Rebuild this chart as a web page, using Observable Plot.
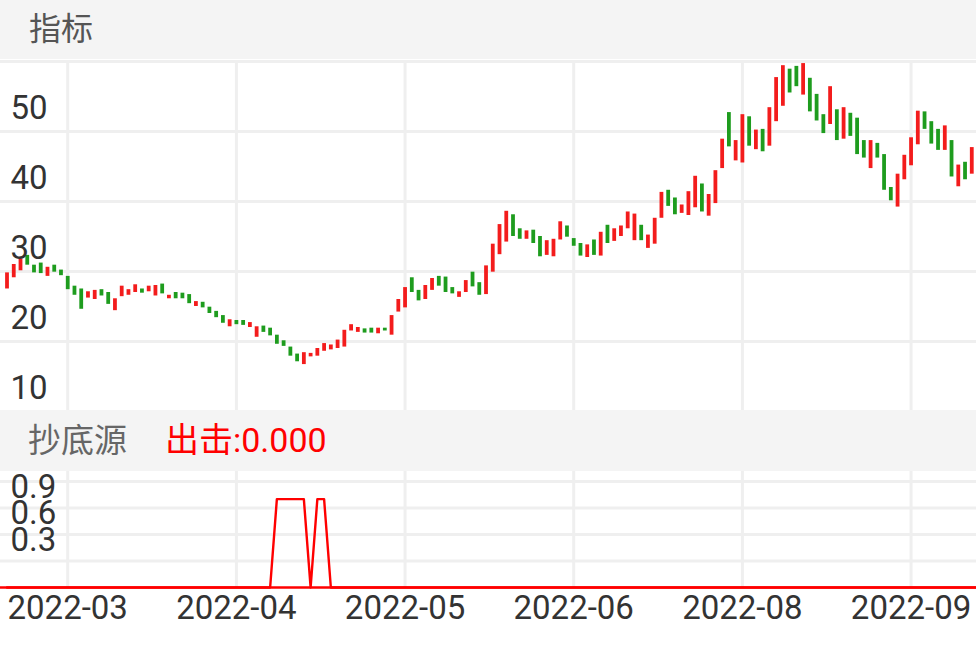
<!DOCTYPE html>
<html>
<head>
<meta charset="utf-8">
<script src="https://cdn.jsdelivr.net/npm/d3@7"></script>
<script src="https://cdn.jsdelivr.net/npm/@observablehq/plot@0.6"></script>
<style>
  html, body { margin: 0; padding: 0; background: #fff; }
  #wrap { position: relative; width: 976px; height: 649px; overflow: hidden;
          font-family: Roboto, "Noto Sans CJK SC", sans-serif; background: #fff; }
  .hdr { position: absolute; left: 0; width: 976px; background: #f4f4f4; }
  .hdr span { position: absolute; white-space: nowrap; }
  #main, #lower { position: absolute; left: 0; width: 976px; }
  #main svg, #lower svg { display: block; overflow: visible; }
</style>
</head>
<body>
<div id="wrap">
  <div class="hdr" style="top:0;height:59px;">
    <span style="left:29px;top:0;line-height:59px;font-size:32px;color:#555;">指标</span>
  </div>
  <div id="main" style="top:60px;height:350px;"></div>
  <div class="hdr" style="top:410px;height:61px;">
    <span style="left:28px;top:0;line-height:61px;font-size:33px;color:#666;">抄底源</span>
    <span style="left:165px;top:0;line-height:61px;font-size:34px;color:#ff0000;">出击:0.000</span>
  </div>
  <div id="lower" style="top:471px;height:178px;"></div>
</div>
<script>
// ---- data ----
const opens = [
  27.5, 29.1, 30.1, 32.3, 30.9, 31.2, 29.3, 30.9, 30.2, 29.3,
  27.9, 27.5, 26.2, 26.0, 27.4, 27.0, 24.4, 26.4, 26.6, 27.0,
  27.5, 27.1, 26.5, 28.2, 26.1, 27.0, 26.9, 26.7, 25.0, 25.6,
  24.9, 24.3, 23.7, 22.1, 23.0, 23.0, 22.0, 20.6, 22.2, 21.9,
  20.9, 20.1, 19.2, 18.2, 16.7, 17.8, 17.9, 18.6, 18.8, 19.0,
  19.2, 21.5, 21.3, 21.8, 21.9, 21.1, 21.9, 20.9, 24.2, 24.8,
  29.1, 27.3, 26.0, 27.3, 29.3, 29.2, 27.7, 26.3, 27.0, 29.9,
  28.4, 26.7, 29.9, 32.4, 34.2, 38.1, 36.1, 34.6, 35.9, 35.0,
  32.3, 32.1, 34.5, 36.5, 34.7, 34.0, 32.0, 34.5, 32.2, 36.6,
  34.3, 35.0, 36.1, 34.4, 36.6, 33.3, 33.9, 37.6, 41.6, 40.5,
  38.3, 38.0, 39.1, 42.5, 37.9, 39.7, 44.7, 52.7, 45.8, 45.5,
  52.1, 47.4, 50.3, 47.9, 51.4, 53.6, 58.9, 59.3, 55.2, 57.6,
  55.3, 52.4, 51.0, 53.1, 48.9, 52.6, 51.9, 48.7, 44.7, 48.3,
  46.7, 42.0, 39.2, 43.1, 45.1, 48.1, 52.8, 51.4, 50.3, 47.3,
  48.7, 42.1, 45.6, 43.9, 48.9
];
const closes = [
  29.8, 31.0, 31.8, 30.9, 29.8, 29.7, 30.6, 29.9, 29.4, 27.4,
  26.6, 24.6, 27.1, 27.3, 26.5, 25.3, 26.1, 27.9, 27.4, 28.1,
  26.9, 27.9, 28.0, 26.8, 26.6, 26.1, 26.1, 25.4, 25.7, 24.8,
  24.0, 23.4, 22.6, 23.1, 22.4, 22.3, 22.7, 22.1, 21.3, 20.8,
  19.6, 19.3, 17.9, 17.1, 18.4, 18.3, 19.0, 19.7, 19.5, 20.2,
  21.6, 22.4, 22.0, 21.2, 21.2, 21.9, 21.5, 23.7, 26.0, 27.7,
  27.0, 25.8, 28.0, 29.0, 27.9, 27.0, 26.8, 27.1, 28.7, 27.8,
  26.6, 30.8, 33.9, 36.7, 38.6, 35.0, 34.6, 35.8, 34.0, 32.1,
  34.4, 34.6, 37.1, 34.9, 33.6, 32.2, 33.8, 32.3, 35.6, 34.0,
  36.1, 36.5, 38.5, 38.2, 34.4, 35.2, 37.6, 41.3, 39.3, 38.1,
  39.5, 41.4, 43.6, 38.5, 41.0, 44.4, 48.9, 47.8, 48.7, 52.4,
  47.9, 50.2, 47.1, 53.4, 57.7, 59.4, 55.5, 56.4, 59.7, 52.8,
  51.5, 49.7, 56.4, 48.7, 53.4, 49.3, 46.7, 46.2, 48.7, 46.2,
  41.6, 40.1, 43.9, 46.6, 49.1, 52.9, 50.3, 48.2, 47.3, 50.8,
  43.5, 45.2, 43.1, 47.7, 45.0
];
// 抄底源 signal, one value per candle
const signal = [
  0,0,0,0,0,0,0,0,0,0, 0,0,0,0,0,0,0,0,0,0,
  0,0,0,0,0,0,0,0,0,0, 0,0,0,0,0,0,0,0,0,0,
  1,1,1,1,1,0,1,1,0,0, 0,0,0,0,0,0,0,0,0,0,
  0,0,0,0,0,0,0,0,0,0, 0,0,0,0,0,0,0,0,0,0,
  0,0,0,0,0,0,0,0,0,0, 0,0,0,0,0,0,0,0,0,0,
  0,0,0,0,0,0,0,0,0,0, 0,0,0,0,0,0,0,0,0,0,
  0,0,0,0,0,0,0,0,0,0, 0,0,0,0,0,0,0,0,0,0,
  0,0,0,0,0
];
const tickIndex = [9, 34, 59, 84, 109, 134];
const tickLabels = ["2022-03", "2022-04", "2022-05", "2022-06", "2022-08", "2022-09"];
const mainGrid = [20, 30, 40, 50, 60];
const mainLabels = [10, 20, 30, 40, 50];
const lowerGrid = [0.3, 0.6, 0.9, 1.2];
const lowerLabels = [0.3, 0.6, 0.9];

// ---- build ----
const RED = "#f31c1c", GREEN = "#1e9c1e", GRID = "#efefef";
const candles = opens.map((o, i) => ({i, open: o, close: closes[i], dir: closes[i] >= o ? "up" : "down"}));
const sig = signal.map((v, i) => ({i, v}));
const xDomain = [-0.964, 143.7];
const font = "Roboto, 'Noto Sans CJK SC', sans-serif";

const main = Plot.plot({
  width: 976, height: 350,
  marginTop: 0, marginBottom: 0, marginLeft: 0, marginRight: 0,
  x: {domain: xDomain, axis: null},
  y: {domain: [10.14, 60.14], axis: null},
  color: {domain: ["up", "down"], range: [RED, GREEN]},
  style: {fontFamily: font, background: "#fff", overflow: "visible"},
  marks: [
    Plot.ruleY(mainGrid, {stroke: GRID, strokeWidth: 3}),
    Plot.ruleX(tickIndex, {stroke: GRID, strokeWidth: 3}),
    Plot.ruleX(candles, {x: "i", y1: "open", y2: "close", stroke: "dir", strokeWidth: 3.8}),
    Plot.text(mainLabels, {y: d => d, text: d => String(d), frameAnchor: "left", textAnchor: "start",
      dx: 10, dy: -23, fontSize: 33, fill: "#333"})
  ]
});
document.getElementById("main").appendChild(main);

const lower = Plot.plot({
  width: 976, height: 178,
  marginTop: 0, marginBottom: 62, marginLeft: 0, marginRight: 0,
  x: {domain: xDomain, axis: null},
  y: {domain: [0, 1.313], axis: null},
  style: {fontFamily: font, background: "transparent", overflow: "visible"},
  marks: [
    Plot.ruleY(lowerGrid, {stroke: GRID, strokeWidth: 3}),
    Plot.ruleX(tickIndex, {stroke: GRID, strokeWidth: 3}),
    Plot.ruleY([0], {stroke: "#ff0000", strokeWidth: 2.4}),
    Plot.line(sig, {x: "i", y: "v", stroke: "#ff0000", strokeWidth: 2.4}),
    Plot.text(lowerLabels, {y: d => d, text: d => d.toFixed(1), frameAnchor: "left", textAnchor: "start",
      dx: 10, dy: -21, fontSize: 33, fill: "#333"}),
    Plot.text(tickIndex, {x: d => d, text: (d, i) => tickLabels[i], frameAnchor: "bottom",
      dy: 31, fontSize: 33, fill: "#333"})
  ]
});
document.getElementById("lower").appendChild(lower);
</script>
</body>
</html>
